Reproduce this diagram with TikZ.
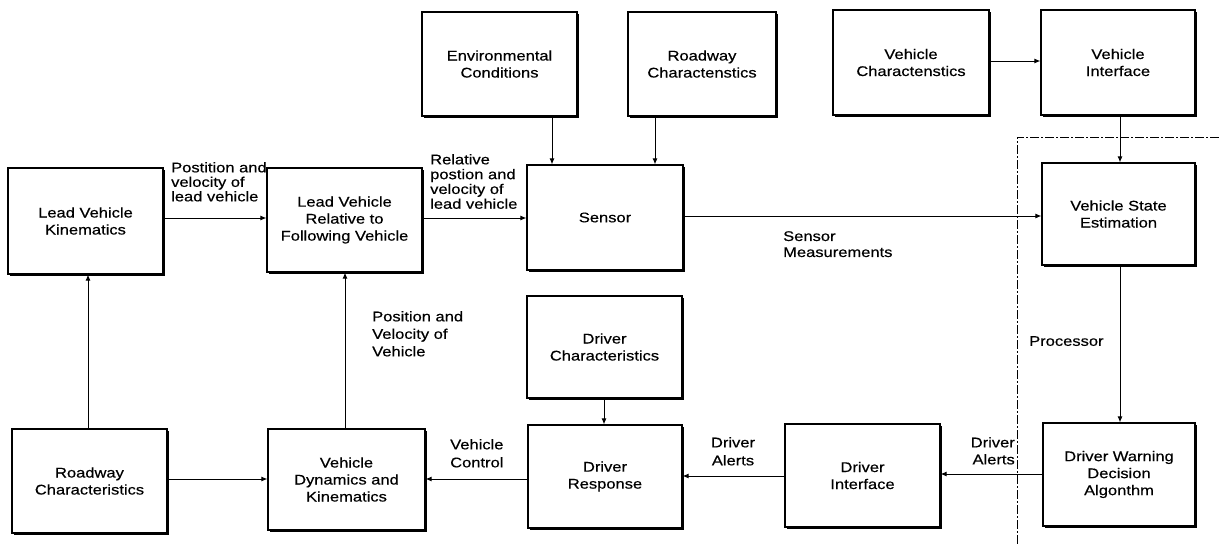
\documentclass[tikz,border=0pt]{standalone}
\usepackage{fontspec}
\setmainfont{Liberation Sans}[FakeStretch=1.18,FakeBold=0.4]
\usetikzlibrary{arrows.meta,shadows}
\begin{document}
\begin{tikzpicture}[x=1pt,y=-1pt,
  box/.style={draw, line width=1.2pt, fill=white, align=center, inner sep=2pt,
    font=\fontsize{14}{17}\selectfont,
    drop shadow={shadow xshift=1.8pt, shadow yshift=-1.8pt, opacity=1, fill=black}},
  lab/.style={align=left, inner sep=0pt, font=\fontsize{14}{14.5}\selectfont},
  arr/.style={-{Latex[length=6pt,width=5pt]}, line width=0.9pt},
  bnd/.style={line width=0.9pt, dash pattern=on 9pt off 2pt on 2pt off 2pt}]
\useasboundingbox (0,0) rectangle (1219,546);
\fill[white] (0,0) rectangle (1219,546);

% boxes
\node[box, minimum width=155pt, minimum height=106pt] (lvk) at (85.5,221) {Lead Vehicle\\Kinematics};
\node[box, minimum width=155pt, minimum height=104pt] (lvr) at (344.5,220) {Lead Vehicle\\Relative to\\Following Vehicle};
\node[box, minimum width=156pt, minimum height=105pt] (sensor) at (605,217.5) {Sensor};
\node[box, minimum width=155pt, minimum height=104pt] (env) at (499.5,64) {Environmental\\Conditions};
\node[box, minimum width=148pt, minimum height=104pt] (roadtop) at (702,64) {Roadway\\Charactenstics};
\node[box, minimum width=156pt, minimum height=105pt] (vchar) at (911,62.5) {Vehicle\\Charactenstics};
\node[box, minimum width=154pt, minimum height=105pt] (vint) at (1118,62.5) {Vehicle\\Interface};
\node[box, minimum width=153pt, minimum height=102pt] (vse) at (1118.5,214) {Vehicle State\\Estimation};
\node[box, minimum width=155pt, minimum height=102pt] (dchar) at (604.5,347) {Driver\\Characteristics};
\node[box, minimum width=154pt, minimum height=103pt] (dresp) at (605,476.5) {Driver\\Response};
\node[box, minimum width=155pt, minimum height=103pt] (dint) at (862.5,475.5) {Driver\\Interface};
\node[box, minimum width=152pt, minimum height=103pt] (dwda) at (1119,474.5) {Driver Warning\\Decision\\Algonthm};
\node[box, minimum width=155pt, minimum height=104pt] (roadbot) at (89.5,481) {Roadway\\Characteristics};
\node[box, minimum width=157pt, minimum height=101pt] (vdk) at (346.5,479.5) {Vehicle\\Dynamics and\\Kinematics};

% helper coordinates
\coordinate (h1) at (0,218);
\coordinate (h2) at (0,216);
\coordinate (h3) at (0,61);
\coordinate (h4) at (0,474);
\coordinate (h5) at (0,476);
\coordinate (h6) at (0,479);
\coordinate (v1) at (552,0);
\coordinate (v2) at (655,0);
\coordinate (v3) at (1120,0);
\coordinate (v4) at (604,0);
\coordinate (v5) at (345,0);
\coordinate (v6) at (88,0);

% connectors
\draw[arr] (lvk.east |- h1) -- (lvr.west |- h1);
\draw[arr] (lvr.east |- h1) -- (sensor.west |- h1);
\draw[arr] (env.south -| v1) -- (sensor.north -| v1);
\draw[arr] (roadtop.south -| v2) -- (sensor.north -| v2);
\draw[arr] (vchar.east |- h3) -- (vint.west |- h3);
\draw[arr] (vint.south -| v3) -- (vse.north -| v3);
\draw[arr] (sensor.east |- h2) -- (vse.west |- h2);
\draw[arr] (vse.south -| v3) -- (dwda.north -| v3);
\draw[arr] (dwda.west |- h4) -- (dint.east |- h4);
\draw[arr] (dint.west |- h5) -- (dresp.east |- h5);
\draw[arr] (dchar.south -| v4) -- (dresp.north -| v4);
\draw[arr] (dresp.west |- h6) -- (vdk.east |- h6);
\draw[arr] (roadbot.east |- h6) -- (vdk.west |- h6);
\draw[arr] (roadbot.north -| v6) -- (lvk.south -| v6);
\draw[arr] (vdk.north -| v5) -- (lvr.south -| v5);

% processor boundary
\coordinate (b1) at (1219,137);
\coordinate (b2) at (1017,137);
\coordinate (b3) at (1017,546);
\draw[bnd] (b1) -- (b2) -- (b3);

% labels
\node[lab, anchor=north west] (l1) at (171,162) {Postition and\\velocity of\\lead vehicle};
\node[lab, anchor=north west, font=\fontsize{14}{14.8}\selectfont] (l2) at (430,154) {Relative\\postion and\\velocity of\\lead vehicle};
\node[lab, anchor=north west, font=\fontsize{14}{16}\selectfont] (l3) at (783,231) {Sensor\\Measurements};
\node[lab, anchor=north west, font=\fontsize{14}{17.5}\selectfont] (l4) at (372,311) {Position and\\Velocity of\\Vehicle};
\node[lab, anchor=north west, font=\fontsize{14}{18}\selectfont] (l5) at (450,439) {Vehicle\\Control};
\node[lab, anchor=north, align=center, font=\fontsize{14}{18}\selectfont] (l6) at (733,437) {Driver\\Alerts};
\node[lab, anchor=north east, align=right, font=\fontsize{14}{17}\selectfont] (l7) at (1015,437) {Driver\\Alerts};
\node[lab, anchor=north west] (l8) at (1029,336) {Processor};
\end{tikzpicture}
\end{document}
